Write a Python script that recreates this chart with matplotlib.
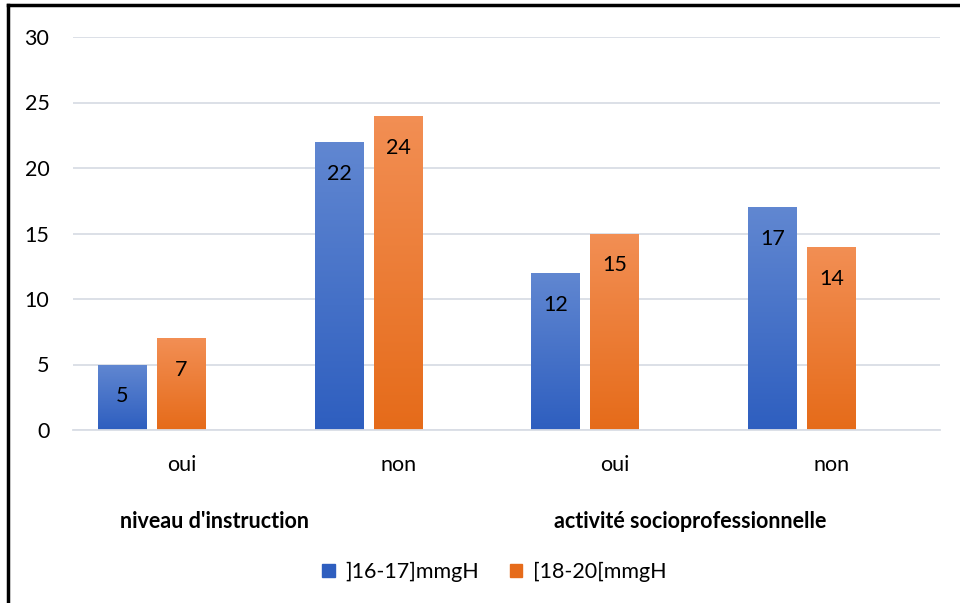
import matplotlib
matplotlib.use("Agg")
import matplotlib.pyplot as plt
import numpy as np
from matplotlib.lines import Line2D
from matplotlib.patches import Rectangle

plt.rcParams['font.family'] = ['Lato', 'DejaVu Sans']

# ---- données ----
categories = ['oui', 'non', 'oui', 'non']
groups = ["niveau d'instruction", 'activité socioprofessionnelle']
series_names = [']16-17]mmgH', '[18-20[mmgH']
bas = [5, 22, 12, 17]    # ]16-17]mmgH
haut = [7, 24, 15, 14]   # [18-20[mmgH

blue_top, blue_bot = (0.38, 0.53, 0.82), (0.18, 0.37, 0.75)
orange_top, orange_bot = (0.95, 0.56, 0.33), (0.90, 0.42, 0.10)

fig = plt.figure(figsize=(9.6, 6.03), dpi=100)
ax = fig.add_axes([73 / 960, 1 - 430 / 603, 867 / 960, 393 / 603])

x = np.arange(len(categories))
width = 0.226
step = 0.272


def gradient_bar(ax, xc, h, c_top, c_bot):
    bar = ax.bar(xc, h, width, color='none', edgecolor='none')[0]
    grad = np.linspace(0, 1, 256).reshape(-1, 1)
    cols = np.array(c_bot)[None, None, :] * (1 - grad[..., None]) + \
        np.array(c_top)[None, None, :] * grad[..., None]
    im = ax.imshow(cols, extent=[xc - width / 2, xc + width / 2, 0, h],
                   origin='lower', aspect='auto', zorder=2)
    im.set_clip_path(bar)
    ax.annotate(str(h), (xc, h), xytext=(0, -23), textcoords='offset points',
                ha='center', va='center', fontsize=15.5, color='black', zorder=3)


for i in range(len(categories)):
    gradient_bar(ax, x[i] - step, bas[i], blue_top, blue_bot)
    gradient_bar(ax, x[i], haut[i], orange_top, orange_bot)

ax.set_xlim(-0.5, len(categories) - 0.5)
ax.set_ylim(0, 30)
ax.set_yticks(range(0, 31, 5))
ax.set_xticks(x)
ax.set_xticklabels(categories)
ax.tick_params(length=0, labelsize=15.5, colors='black')
ax.tick_params(axis='x', pad=18)
ax.tick_params(axis='y', pad=17)
ax.grid(axis='y', color='#d9dde5', linewidth=1.3, zorder=0)
ax.set_axisbelow(True)
for s in ['top', 'right', 'left']:
    ax.spines[s].set_visible(False)
ax.spines['bottom'].set_color('#d9dde5')
ax.spines['bottom'].set_linewidth(1.3)

# libellés des groupes
fig.text(215 / 960, 1 - 521 / 603, groups[0], ha='center', va='center',
         fontsize=15.5, fontweight='bold')
fig.text(690 / 960, 1 - 521 / 603, groups[1], ha='center', va='center',
         fontsize=15.5, fontweight='bold')

# légende
handles = [Rectangle((0, 0), 1, 1, color=blue_bot),
           Rectangle((0, 0), 1, 1, color=orange_bot)]
fig.legend(handles, series_names, loc='center', bbox_to_anchor=(0.515, 1 - 572 / 603),
           ncol=2, frameon=False, fontsize=15.5, handlelength=0.6, handleheight=0.6,
           columnspacing=1.4, handletextpad=0.5)

# cadre
fig.add_artist(Line2D([8 / 960, 8 / 960], [0, 1 - 5 / 603], color='black', linewidth=2.5))
fig.add_artist(Line2D([8 / 960, 1], [1 - 5 / 603, 1 - 5 / 603], color='black', linewidth=2.5))

fig.savefig('out.png', dpi=100)
